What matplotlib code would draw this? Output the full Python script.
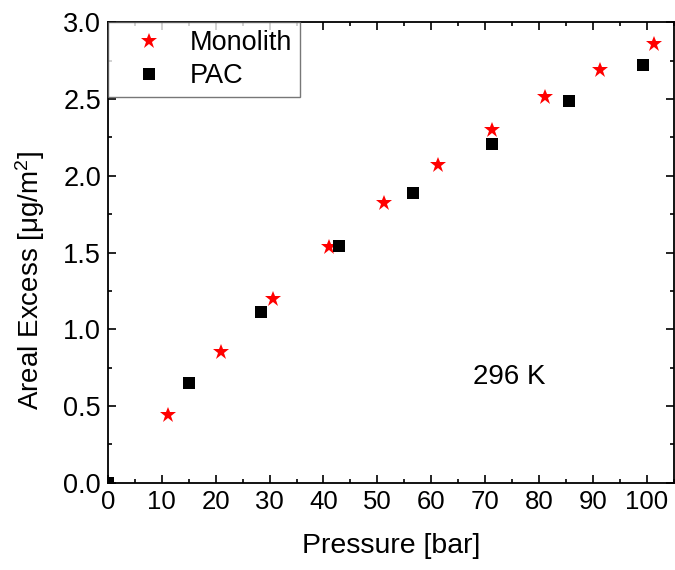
import matplotlib
matplotlib.use("Agg")
import matplotlib.pyplot as plt
from matplotlib.ticker import MultipleLocator

plt.rcParams['font.family'] = ['Liberation Sans', 'DejaVu Sans']
plt.rcParams['mathtext.fontset'] = 'custom'
plt.rcParams['mathtext.rm'] = 'Liberation Sans'
plt.rcParams['mathtext.it'] = 'Liberation Sans'

mono_p = [11.1, 20.9, 30.7, 41.0, 51.2, 61.2, 71.2, 81.2, 91.4, 101.3]
mono_a = [0.44, 0.85, 1.20, 1.535, 1.82, 2.07, 2.30, 2.51, 2.69, 2.86]
pac_p = [0.0, 15.0, 28.4, 42.9, 56.6, 71.3, 85.6, 99.4]
pac_a = [0.0, 0.65, 1.11, 1.54, 1.885, 2.21, 2.485, 2.72]

fig = plt.figure(figsize=(6.75, 5.7), dpi=100)
ax = fig.add_axes([0.16, 0.153, 0.838, 0.808])

ax.plot(mono_p, mono_a, linestyle='none', marker='*', color='red', markersize=12,
        markeredgewidth=0, label='Monolith', clip_on=True)
ax.plot(pac_p, pac_a, linestyle='none', marker='s', color='black', markersize=8,
        markeredgewidth=0, label='PAC', clip_on=True)

ax.set_xlim(0, 105)
ax.set_ylim(0, 3.0)
ax.xaxis.set_major_locator(MultipleLocator(10))
ax.xaxis.set_minor_locator(MultipleLocator(5))
ax.yaxis.set_major_locator(MultipleLocator(0.5))
ax.yaxis.set_minor_locator(MultipleLocator(0.25))
ax.yaxis.set_major_formatter(plt.FormatStrFormatter('%.1f'))
ax.tick_params(which='both', direction='in', top=True, right=True, width=1.2)
ax.tick_params(axis='x', labelsize=18.5)
ax.tick_params(axis='y', labelsize=19.5)
ax.tick_params(which='major', length=6, pad=5)
ax.tick_params(which='minor', length=3)
for s in ax.spines.values():
    s.set_linewidth(1.3)

ax.set_xlabel('Pressure [bar]', fontsize=20.5, labelpad=14)
ax.set_ylabel('Areal Excess [μg/m$^{2}$]', fontsize=20)
ax.yaxis.set_label_coords(-0.108, 0.44)

ax.text(67.8, 0.69, '296 K', fontsize=20, ha='left', va='center')

leg = ax.legend(loc='upper left', fontsize=19.5, frameon=True, fancybox=False,
                borderaxespad=0, handletextpad=0.3, borderpad=0.3, labelspacing=0.25,
                handlelength=2.4)
leg.get_frame().set_edgecolor('#555555')
leg.get_frame().set_linewidth(1.0)

fig.savefig('out.png', dpi=100)
